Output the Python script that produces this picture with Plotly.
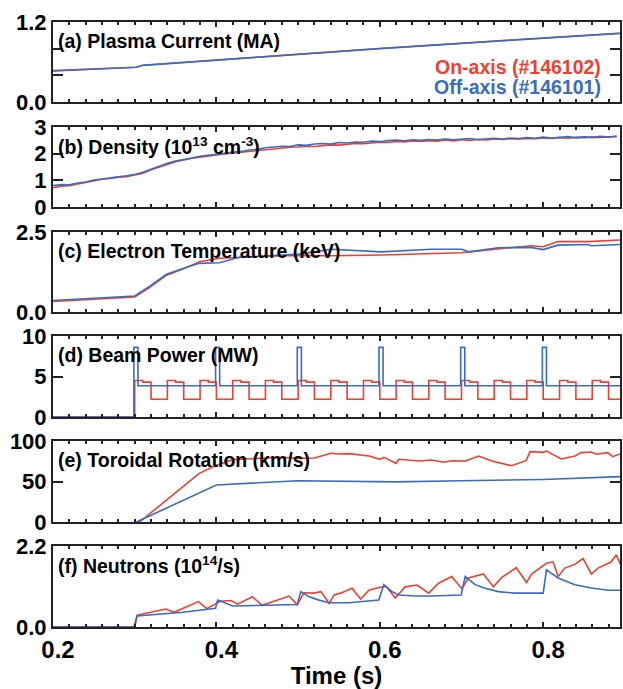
import plotly.graph_objects as go
from plotly.subplots import make_subplots

RED = "#ee4030"
BLUE = "#3a6cc0"
FONT = "Liberation Sans, Arial, Helvetica, sans-serif"

# ---------------- data ----------------
# (a) plasma current (MA)
ip_t = [0.200, 0.300, 0.302, 0.310, 0.400, 0.500, 0.526, 0.600, 0.700, 0.800, 0.894]
ip_red = [0.470, 0.518, 0.522, 0.552, 0.632, 0.722, 0.747, 0.802, 0.882, 0.957, 1.032]
ip_blue = [0.465, 0.515, 0.520, 0.550, 0.630, 0.720, 0.745, 0.800, 0.880, 0.955, 1.030]

# (b) density (1e13 cm^-3), sampled every 10 ms from 0.20 to 0.89 s
ne_t = [0.20, 0.21, 0.22, 0.23, 0.24, 0.25, 0.26, 0.27, 0.28, 0.29,
        0.30, 0.31, 0.32, 0.33, 0.34, 0.35, 0.36, 0.37, 0.38, 0.39,
        0.40, 0.41, 0.42, 0.43, 0.44, 0.45, 0.46, 0.47, 0.48, 0.49,
        0.50, 0.51, 0.52, 0.53, 0.54, 0.55, 0.56, 0.57, 0.58, 0.59,
        0.60, 0.61, 0.62, 0.63, 0.64, 0.65, 0.66, 0.67, 0.68, 0.69,
        0.70, 0.71, 0.72, 0.73, 0.74, 0.75, 0.76, 0.77, 0.78, 0.79,
        0.80, 0.81, 0.82, 0.83, 0.84, 0.85, 0.86, 0.87, 0.88, 0.89]
ne_blue = [0.80, 0.84, 0.83, 0.90, 0.94, 1.01, 1.05, 1.10, 1.13, 1.17,
           1.22, 1.30, 1.42, 1.53, 1.64, 1.72, 1.79, 1.84, 1.90, 1.93,
           1.98, 2.01, 2.06, 2.08, 2.14, 2.16, 2.22, 2.24, 2.28, 2.27,
           2.33, 2.31, 2.36, 2.38, 2.36, 2.42, 2.40, 2.44, 2.43, 2.47,
           2.45, 2.49, 2.51, 2.48, 2.52, 2.50, 2.53, 2.51, 2.55, 2.52,
           2.54, 2.57, 2.53, 2.56, 2.58, 2.55, 2.59, 2.57, 2.60, 2.58,
           2.62, 2.59, 2.61, 2.64, 2.60, 2.63, 2.61, 2.65, 2.62, 2.66]
ne_red = [0.72, 0.78, 0.80, 0.86, 0.92, 0.98, 1.04, 1.07, 1.12, 1.14,
          1.20, 1.27, 1.40, 1.50, 1.62, 1.70, 1.76, 1.83, 1.87, 1.92,
          1.95, 1.99, 2.02, 2.07, 2.09, 2.12, 2.15, 2.19, 2.21, 2.24,
          2.25, 2.28, 2.27, 2.31, 2.33, 2.32, 2.36, 2.38, 2.37, 2.41,
          2.43, 2.42, 2.46, 2.44, 2.48, 2.46, 2.49, 2.47, 2.51, 2.48,
          2.52, 2.50, 2.53, 2.51, 2.55, 2.53, 2.56, 2.54, 2.57, 2.56,
          2.59, 2.57, 2.60, 2.58, 2.61, 2.60, 2.62, 2.61, 2.63, 2.64]

# (c) electron temperature (keV)
te_red_t = [0.200, 0.300, 0.318, 0.339, 0.359, 0.379, 0.404, 0.428, 0.460, 0.501, 0.541,
            0.602, 0.663, 0.700, 0.709, 0.745, 0.785, 0.800, 0.818, 0.855, 0.894]
te_red = [0.33, 0.47, 0.76, 1.15, 1.34, 1.57, 1.68, 1.71, 1.74, 1.77, 1.76,
          1.78, 1.81, 1.85, 1.88, 1.97, 2.07, 2.04, 2.20, 2.20, 2.25]
te_blue_t = [0.200, 0.300, 0.318, 0.339, 0.359, 0.379, 0.404, 0.428, 0.460, 0.501, 0.541,
             0.602, 0.663, 0.700, 0.709, 0.745, 0.785, 0.800, 0.818, 0.855, 0.859, 0.894]
te_blue = [0.36, 0.50, 0.80, 1.18, 1.36, 1.52, 1.54, 1.71, 1.75, 1.81, 1.96,
           1.88, 1.96, 1.96, 1.88, 2.01, 2.02, 1.95, 2.09, 2.11, 2.07, 2.11]

# (d) beam power (MW), step signals (value holds until next time)
pb_blue_t = [0.200, 0.299, 0.304, 0.399, 0.404, 0.499, 0.504, 0.599, 0.604,
             0.699, 0.704, 0.799, 0.804, 0.894]
pb_blue = [0.0, 8.6, 3.85, 8.6, 3.85, 8.6, 3.85, 8.6, 3.85,
           8.6, 3.85, 8.6, 3.85, 3.85]
pb_red_t = [0.200,
            0.300, 0.310, 0.320, 0.340, 0.350, 0.360, 0.380, 0.390, 0.400,
            0.420, 0.430, 0.440, 0.460, 0.470, 0.480, 0.500, 0.510, 0.520,
            0.540, 0.550, 0.560, 0.580, 0.590, 0.600, 0.620, 0.630, 0.640,
            0.660, 0.670, 0.680, 0.700, 0.710, 0.720, 0.740, 0.750, 0.760,
            0.780, 0.790, 0.800, 0.820, 0.830, 0.840, 0.860, 0.870, 0.880,
            0.894]
pb_red = [0.0,
          4.5, 4.3, 2.2, 4.5, 4.3, 2.2, 4.5, 4.3, 2.2,
          4.5, 4.3, 2.2, 4.5, 4.3, 2.2, 4.5, 4.3, 2.2,
          4.5, 4.3, 2.2, 4.5, 4.3, 2.2, 4.5, 4.3, 2.2,
          4.5, 4.3, 2.2, 4.5, 4.3, 2.2, 4.5, 4.3, 2.2,
          4.5, 4.3, 2.2, 4.5, 4.3, 2.2, 4.5, 4.3, 2.2,
          2.2]

# (e) toroidal rotation (km/s)
vt_red_t = [0.306, 0.379, 0.400, 0.420, 0.452, 0.480, 0.501, 0.520, 0.540, 0.550, 0.562,
            0.587, 0.600, 0.605, 0.620, 0.623, 0.648, 0.663, 0.678, 0.688, 0.705,
            0.721, 0.737, 0.761, 0.779, 0.784, 0.800, 0.804, 0.822, 0.839, 0.846,
            0.859, 0.865, 0.879, 0.885, 0.894]
vt_red = [0, 60, 70, 77, 78.6, 80, 78.6, 79, 84.8, 84, 84.4,
          81.5, 77.4, 79.8, 72.4, 77.4, 75.3, 76.5, 73.7, 75.7, 75.3,
          81.5, 75.3, 69.5, 75.7, 86.8, 86, 87.6, 77.8, 81.5, 85.6,
          86.4, 83.7, 85.6, 80.6, 84]
vt_blue_t = [0.302, 0.400, 0.500, 0.560, 0.620, 0.700, 0.800, 0.894]
vt_blue = [0, 45.7, 51, 50, 49.5, 51, 52.5, 56]

# (f) neutron rate (1e14 /s)
sn_red_t = [0.200, 0.250, 0.299, 0.303, 0.318, 0.338, 0.348, 0.378, 0.388, 0.405,
            0.418, 0.426, 0.444, 0.456, 0.489, 0.499, 0.507, 0.519, 0.528, 0.538,
            0.544, 0.552, 0.566, 0.5765, 0.5866, 0.5988, 0.608, 0.619, 0.631, 0.6455,
            0.6598, 0.672, 0.688, 0.7004, 0.7085, 0.7268, 0.739, 0.749, 0.767, 0.7796,
            0.7857, 0.804, 0.812, 0.8183, 0.8264, 0.8387, 0.8488, 0.8589, 0.8671, 0.8833,
            0.8894, 0.895]
sn_red = [0.0, 0.0, 0.0, 0.32, 0.39, 0.49, 0.40, 0.69, 0.50, 0.70,
          0.72, 0.62, 0.82, 0.59, 0.84, 0.60, 0.93, 0.92, 0.96, 0.64,
          0.87, 0.92, 1.05, 0.76, 1.00, 1.07, 1.10, 0.79, 1.09, 1.14,
          0.92, 1.19, 1.37, 1.04, 1.33, 1.44, 1.09, 1.34, 1.61, 1.21,
          1.44, 1.73, 1.77, 1.37, 1.60, 1.70, 1.86, 1.44, 1.60, 1.77,
          1.96, 1.68]
sn_blue_t = [0.200, 0.250, 0.300, 0.303, 0.359, 0.399, 0.4015, 0.420, 0.489, 0.499,
             0.5033, 0.5134, 0.5256, 0.5378, 0.5622, 0.5826, 0.5988, 0.6049, 0.615, 0.6232,
             0.6435, 0.6638, 0.6882, 0.6996, 0.7045, 0.7167, 0.7289, 0.7451, 0.7655, 0.7857,
             0.800, 0.804, 0.8183, 0.8387, 0.8589, 0.8793, 0.895]
sn_blue = [0.0, 0.01, 0.0, 0.30, 0.40, 0.51, 0.73, 0.57, 0.59, 0.61,
           0.96, 0.82, 0.73, 0.66, 0.66, 0.69, 0.73, 1.15, 0.96, 0.87,
           0.84, 0.84, 0.85, 0.87, 1.37, 1.15, 1.05, 0.96, 0.92, 0.92,
           0.92, 1.55, 1.33, 1.15, 1.06, 1.00, 1.00]

panel_titles = ["(a) Plasma Current (MA)",
                "(b) Density (10<sup>13</sup> cm<sup>-3</sup>)",
                "(c) Electron Temperature (keV)",
                "(d) Beam Power (MW)",
                "(e) Toroidal Rotation (km/s)",
                "(f) Neutrons (10<sup>14</sup>/s)"]
y_ranges = [[0, 1.2], [0, 3], [0, 2.5], [0, 10], [0, 100], [0, 2.2]]
y_tickvals = [[0, 1.2], [0, 1, 2, 3], [0, 2.5], [0, 5, 10], [0, 50, 100], [0, 2.2]]
y_ticktext = [["0.0", "1.2"], ["0", "1", "2", "3"], ["0.0", "2.5"],
              ["0", "5", "10"], ["0", "50", "100"], ["0.0", "2.2"]]
y_minor_dtick = [0.4, None, None, None, None, None]
x_tickvals = [0.2, 0.4, 0.6, 0.8]
x_ticktext = ["0.2", "0.4", "0.6", "0.8"]
legend_labels = ["On-axis (#146102)", "Off-axis (#146101)"]

# ---------------- figure ----------------
fig = make_subplots(rows=6, cols=1, shared_xaxes=True, vertical_spacing=0.02)

series = [
    (ip_t, ip_red, ip_t, ip_blue, "linear"),
    (ne_t, ne_red, ne_t, ne_blue, "linear"),
    (te_red_t, te_red, te_blue_t, te_blue, "linear"),
    (pb_red_t, pb_red, pb_blue_t, pb_blue, "hv"),
    (vt_red_t, vt_red, vt_blue_t, vt_blue, "linear"),
    (sn_red_t, sn_red, sn_blue_t, sn_blue, "linear"),
]
for i, (rt, rv, bt, bv, shape) in enumerate(series):
    fig.add_trace(go.Scatter(x=rt, y=rv, mode="lines", line=dict(color=RED, width=1.6, shape=shape),
                             showlegend=False), row=i + 1, col=1)
    fig.add_trace(go.Scatter(x=bt, y=bv, mode="lines", line=dict(color=BLUE, width=1.6, shape=shape),
                             showlegend=False), row=i + 1, col=1)

# panel extents in pixels (top, bottom) measured from the top of the plot area
H_PLOT = 605.0
panel_px = [(0, 80), (105, 185), (210, 290), (314, 395), (419, 500), (524, 605)]
for i, (top, bot) in enumerate(panel_px):
    dom = [(H_PLOT - bot) / H_PLOT, (H_PLOT - top) / H_PLOT]
    ykw = dict(domain=dom, range=y_ranges[i], tickvals=y_tickvals[i], ticktext=y_ticktext[i],
               ticks="inside", ticklen=10, tickwidth=1.5, tickcolor="#222",
               showline=True, linewidth=2, linecolor="#222", mirror="allticks",
               showgrid=False, zeroline=False,
               tickfont=dict(family=FONT, size=22, color="black", weight="bold"))
    if y_minor_dtick[i]:
        ykw["minor"] = dict(dtick=y_minor_dtick[i], tick0=0, ticks="inside", ticklen=10,
                            tickwidth=1.5, tickcolor="#222", showgrid=False)
    fig.update_yaxes(row=i + 1, col=1, **ykw)
    fig.update_xaxes(range=[0.2, 0.894],
                     tickvals=x_tickvals, ticktext=x_ticktext,
                     ticks="inside", ticklen=5, tickwidth=1.5, tickcolor="#222",
                     minor=dict(dtick=0.02, tick0=0.2, ticks="inside", ticklen=3, tickcolor="#222"),
                     showline=True, linewidth=2, linecolor="#222", mirror="allticks",
                     showgrid=False, zeroline=False,
                     showticklabels=(i == 5), ticklabelshift=5,
                     tickfont=dict(family=FONT, size=24, color="black", weight="bold"),
                     row=i + 1, col=1)
    yref = "y domain" if i == 0 else "y%d domain" % (i + 1)
    xref = "x domain" if i == 0 else "x%d domain" % (i + 1)
    fig.add_annotation(text=panel_titles[i], xref=xref, yref=yref, x=0.006, y=1 - 19 / 80.0,
                       xanchor="left", yanchor="middle", showarrow=False,
                       font=dict(family=FONT, size=19.5, color="black", weight="bold"))

fig.update_xaxes(title=dict(text="Time (s)", font=dict(family=FONT, size=24, color="black", weight="bold"),
                            standoff=0), row=6, col=1)

fig.add_annotation(text=legend_labels[0], xref="x domain", yref="y domain", x=0.97, y=0.44,
                   xanchor="right", yanchor="middle", showarrow=False,
                   font=dict(family=FONT, size=19.5, color=RED, weight="bold"))
fig.add_annotation(text=legend_labels[1], xref="x domain", yref="y domain", x=0.97, y=0.19,
                   xanchor="right", yanchor="middle", showarrow=False,
                   font=dict(family=FONT, size=19.5, color=BLUE, weight="bold"))

fig.update_layout(width=623, height=689, margin=dict(l=53, r=1, t=22, b=62),
                  plot_bgcolor="white", paper_bgcolor="white", showlegend=False)

fig.write_html("out.html")
